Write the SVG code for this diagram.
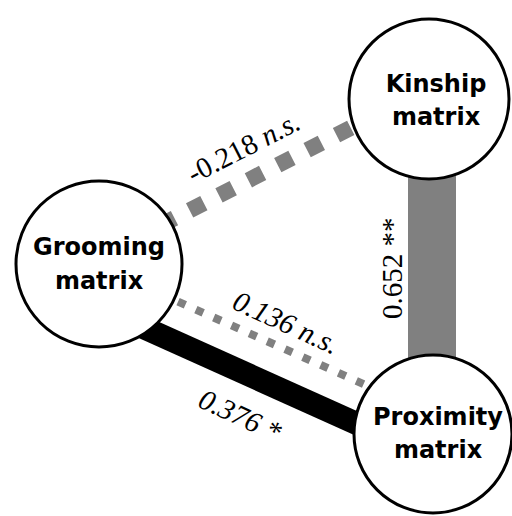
<svg xmlns="http://www.w3.org/2000/svg" width="512" height="516" viewBox="0 0 512 516">
<style>
.node circle{fill:#fff;stroke:#000;stroke-width:3}
.node text{font-family:"DejaVu Sans",sans-serif;font-weight:bold;font-size:24px;text-anchor:middle;fill:#000}
.lbl{font-family:"Liberation Serif",serif;font-size:29px;text-anchor:middle;fill:#000}
.it{font-style:italic}
</style>
<rect width="512" height="516" fill="#fff"/>
<g id="connectors">
<rect x="408" y="150" width="48" height="230" fill="#808080"/>
<line x1="150" y1="230.6" x2="380" y2="112.9" stroke="#808080" stroke-width="16" stroke-dasharray="16 17" stroke-dashoffset="21.5"/>
<line x1="150" y1="289.2" x2="400" y2="400.2" stroke="#808080" stroke-width="8" stroke-dasharray="8 11.5" stroke-dashoffset="8.3"/>
<line x1="120" y1="317" x2="390" y2="438.5" stroke="#000" stroke-width="23"/>
<text class="lbl" transform="translate(248,156) rotate(-27)">-0.218 <tspan class="it">n.s.</tspan></text>
<text class="lbl" transform="translate(401.7,268.3) rotate(-90)">0.652 **</text>
<text class="lbl it" transform="translate(282,331.5) rotate(24.5)">0.136 n.s.</text>
<text class="lbl it" transform="translate(236,424.4) rotate(24.8)">0.376 *</text>
</g>
<g id="grooming" class="node">
<circle cx="99" cy="264" r="83"/>
<text x="99" y="255">Grooming</text>
<text x="99" y="289">matrix</text>
</g>
<g id="kinship" class="node">
<circle cx="429" cy="99" r="80"/>
<text x="436" y="92">Kinship</text>
<text x="436" y="125">matrix</text>
</g>
<g id="proximity" class="node">
<circle cx="433" cy="434" r="79"/>
<text x="438" y="425">Proximity</text>
<text x="438" y="458">matrix</text>
</g>
</svg>
